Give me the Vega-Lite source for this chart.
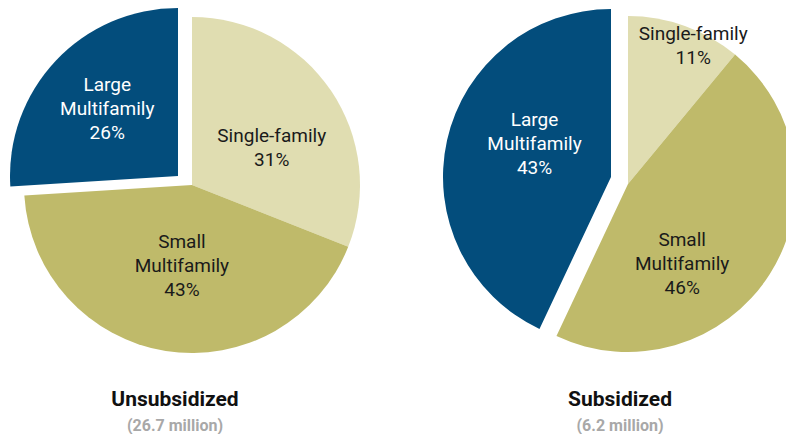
{
  "$schema": "https://vega.github.io/schema/vega-lite/v6.json",
  "padding": 0,
  "spacing": 0,
  "background": "white",
  "config": {"view": {"stroke": null}, "font": "Roboto"},
  "datasets": {
    "pie": [
      {"chart": "Unsubsidized", "category": "Single-family", "order": 1, "share": 31, "label": "Single-family\n31%"},
      {"chart": "Unsubsidized", "category": "Small Multifamily", "order": 2, "share": 43, "label": "Small\nMultifamily\n43%"},
      {"chart": "Unsubsidized", "category": "Large Multifamily", "order": 3, "share": 26, "label": "Large\nMultifamily\n26%"},
      {"chart": "Subsidized", "category": "Single-family", "order": 1, "share": 11, "label": "Single-family\n11%"},
      {"chart": "Subsidized", "category": "Small Multifamily", "order": 2, "share": 46, "label": "Small\nMultifamily\n46%"},
      {"chart": "Subsidized", "category": "Large Multifamily", "order": 3, "share": 43, "label": "Large\nMultifamily\n43%"}
    ]
  },
  "hconcat": [
    {
      "width": 384,
      "height": 370,
      "data": {"name": "pie"},
      "transform": [
        {"filter": "datum.chart === 'Unsubsidized'"},
        {"stack": "share", "groupby": ["chart"], "sort": [{"field": "order", "order": "ascending"}], "as": ["s0", "s1"]}
      ],
      "title": {
        "text": "Unsubsidized", "subtitle": "(26.7 million)", "orient": "bottom", "anchor": "middle",
        "dx": -17, "offset": 19, "fontSize": 21, "fontWeight": "bold", "color": "#111111",
        "subtitleFontSize": 16, "subtitleFontWeight": "bold", "subtitleColor": "#a8a8a8", "subtitlePadding": 8
      },
      "layer": [
        {
          "transform": [{"filter": "datum.category !== 'Large Multifamily'"}],
          "mark": {"type": "arc", "radius": 168},
          "encoding": {
            "theta": {"field": "s0", "type": "quantitative", "scale": {"domain": [0, 100]}},
            "theta2": {"field": "s1"},
            "color": {"field": "category", "type": "nominal", "legend": null,
              "scale": {"domain": ["Single-family", "Small Multifamily", "Large Multifamily"], "range": ["#e0ddb1", "#bfba6a", "#034d7c"]}}
          }
        },
        {
          "transform": [{"filter": "datum.category === 'Large Multifamily'"}],
          "mark": {"type": "arc", "radius": 168, "xOffset": -14, "yOffset": -9},
          "encoding": {
            "theta": {"field": "s0", "type": "quantitative", "scale": {"domain": [0, 100]}},
            "theta2": {"field": "s1"},
            "color": {"field": "category", "type": "nominal", "legend": null}
          }
        },
        {
          "mark": {"type": "text", "radius": 94, "dx": 2, "dy": 4, "fontSize": 19, "lineHeight": 24, "lineBreak": "\n", "fill": "#1a1a1a"},
          "encoding": {
            "theta": {"field": "share", "type": "quantitative", "stack": true},
            "order": {"field": "order"},
            "text": {"condition": {"test": "datum.category === 'Single-family'", "field": "label"}, "value": ""}
          }
        },
        {
          "mark": {"type": "text", "radius": 58, "dx": -1, "dy": 0, "fontSize": 19, "lineHeight": 24, "lineBreak": "\n", "fill": "#1a1a1a"},
          "encoding": {
            "theta": {"field": "share", "type": "quantitative", "stack": true},
            "order": {"field": "order"},
            "text": {"condition": {"test": "datum.category === 'Small Multifamily'", "field": "label"}, "value": ""}
          }
        },
        {
          "mark": {"type": "text", "radius": 130, "dx": 10, "dy": -11, "fontSize": 19, "lineHeight": 24, "lineBreak": "\n", "fill": "#ffffff"},
          "encoding": {
            "theta": {"field": "share", "type": "quantitative", "stack": true},
            "order": {"field": "order"},
            "text": {"condition": {"test": "datum.category === 'Large Multifamily'", "field": "label"}, "value": ""}
          }
        }
      ]
    },
    {
      "width": 488,
      "height": 368,
      "data": {"name": "pie"},
      "transform": [
        {"filter": "datum.chart === 'Subsidized'"},
        {"stack": "share", "groupby": ["chart"], "sort": [{"field": "order", "order": "ascending"}], "as": ["s0", "s1"]}
      ],
      "title": {
        "text": "Subsidized", "subtitle": "(6.2 million)", "orient": "bottom", "anchor": "middle",
        "dx": -8, "offset": 21, "fontSize": 21, "fontWeight": "bold", "color": "#111111",
        "subtitleFontSize": 16, "subtitleFontWeight": "bold", "subtitleColor": "#a8a8a8", "subtitlePadding": 8
      },
      "layer": [
        {
          "transform": [{"filter": "datum.category !== 'Large Multifamily'"}],
          "mark": {"type": "arc", "radius": 168},
          "encoding": {
            "theta": {"field": "s0", "type": "quantitative", "scale": {"domain": [0, 100]}},
            "theta2": {"field": "s1"},
            "color": {"field": "category", "type": "nominal", "legend": null}
          }
        },
        {
          "transform": [{"filter": "datum.category === 'Large Multifamily'"}],
          "mark": {"type": "arc", "radius": 168, "xOffset": -17, "yOffset": -7},
          "encoding": {
            "theta": {"field": "s0", "type": "quantitative", "scale": {"domain": [0, 100]}},
            "theta2": {"field": "s1"},
            "color": {"field": "category", "type": "nominal", "legend": null}
          }
        },
        {
          "mark": {"type": "text", "radius": 163, "dx": 10, "dy": 3, "fontSize": 19, "lineHeight": 24, "lineBreak": "\n", "fill": "#1a1a1a"},
          "encoding": {
            "theta": {"field": "share", "type": "quantitative", "stack": true},
            "order": {"field": "order"},
            "text": {"condition": {"test": "datum.category === 'Single-family'", "field": "label"}, "value": ""}
          }
        },
        {
          "mark": {"type": "text", "radius": 76, "dx": -10, "dy": 15, "fontSize": 19, "lineHeight": 24, "lineBreak": "\n", "fill": "#1a1a1a"},
          "encoding": {
            "theta": {"field": "share", "type": "quantitative", "stack": true},
            "order": {"field": "order"},
            "text": {"condition": {"test": "datum.category === 'Small Multifamily'", "field": "label"}, "value": ""}
          }
        },
        {
          "mark": {"type": "text", "radius": 105, "dx": 9, "dy": -41, "fontSize": 19, "lineHeight": 24, "lineBreak": "\n", "fill": "#ffffff"},
          "encoding": {
            "theta": {"field": "share", "type": "quantitative", "stack": true},
            "order": {"field": "order"},
            "text": {"condition": {"test": "datum.category === 'Large Multifamily'", "field": "label"}, "value": ""}
          }
        }
      ]
    }
  ]
}
